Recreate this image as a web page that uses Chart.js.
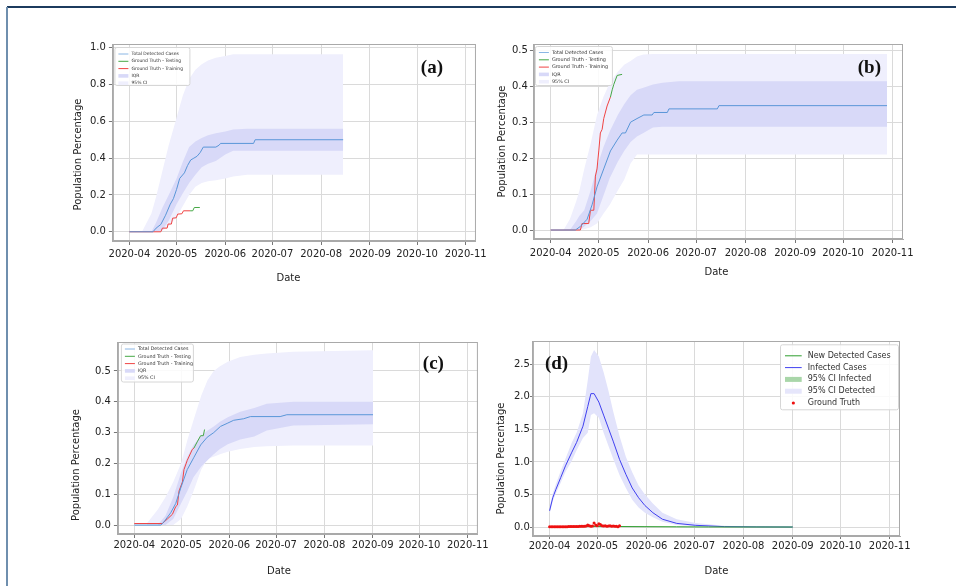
<!DOCTYPE html>
<html>
<head>
<meta charset="utf-8">
<script src="https://cdn.jsdelivr.net/npm/chart.js@4.4.0/dist/chart.umd.min.js"></script>
<style>
  html, body { margin: 0; padding: 0; background: #fff; }
  body { width: 956px; height: 586px; position: relative; overflow: hidden; }
  .topline { position: absolute; left: 7px; top: 6px; width: 949px; height: 2px; background: #1c3b5e; }
  .leftline { position: absolute; left: 6px; top: 7px; width: 2px; height: 579px; background: #6f8fae; }
  .panel { position: absolute; }
</style>
</head>
<body>
<div class="topline"></div>
<div class="leftline"></div>
<div class="panel" style="left:60px;top:30px;width:430px;height:262px"><canvas id="chartA"></canvas></div>
<div class="panel" style="left:490px;top:30px;width:440px;height:262px"><canvas id="chartB"></canvas></div>
<div class="panel" style="left:60px;top:330px;width:430px;height:256px"><canvas id="chartC"></canvas></div>
<div class="panel" style="left:490px;top:330px;width:440px;height:256px"><canvas id="chartD"></canvas></div>
<script>
// x axis: days since 2020-04-01, labelled at month starts
const monthDays = [0, 30, 61, 91, 122, 153, 183, 214];
const monthLabels = ['2020-04', '2020-05', '2020-06', '2020-07', '2020-08', '2020-09', '2020-10', '2020-11'];

const namesABC = ['Total Detected Cases', 'Ground Truth - Testing', 'Ground Truth - Training', 'IQR', '95% CI'];
const namesD = ['New Detected Cases', 'Infected Cases', '95% CI Infected', '95% CI Detected', 'Ground Truth'];

// ---- (a)
const aTotalX = [0, 15, 17, 20, 23, 26, 28, 30, 32, 35, 37, 39, 41, 43, 45, 47, 55, 57, 58, 79, 80, 136];
const aTotal = [0, 0, 0.02, 0.04, 0.09, 0.15, 0.18, 0.23, 0.29, 0.32, 0.36, 0.39, 0.40, 0.41, 0.43, 0.46, 0.46, 0.47, 0.48, 0.48, 0.50, 0.50];
const aBandX = [8, 14, 17, 21, 25, 30, 34, 38, 42, 46, 50, 55, 61, 66, 75, 136];
const aCiHigh = [0, 0.10, 0.19, 0.33, 0.47, 0.62, 0.74, 0.83, 0.88, 0.91, 0.93, 0.945, 0.955, 0.964, 0.965, 0.965];
const aCiLow = [0, 0, 0, 0.005, 0.03, 0.08, 0.14, 0.20, 0.245, 0.265, 0.275, 0.28, 0.29, 0.30, 0.31, 0.31];
const aIqrHigh = [0, 0, 0.05, 0.13, 0.20, 0.29, 0.38, 0.46, 0.49, 0.51, 0.525, 0.535, 0.545, 0.556, 0.56, 0.56];
const aIqrLow = [0, 0, 0, 0.01, 0.06, 0.15, 0.21, 0.265, 0.31, 0.35, 0.37, 0.385, 0.42, 0.44, 0.44, 0.44];
const aTrainX = [0, 20, 21, 24, 24.6, 26.7, 27.5, 29.8, 30.7, 33.4, 34.4, 38.6];
const aTrain = [0, 0, 0.02, 0.02, 0.042, 0.042, 0.074, 0.076, 0.096, 0.098, 0.114, 0.114];
const aTestX = [38.6, 40.3, 41.3, 44.8];
const aTest = [0.114, 0.114, 0.132, 0.132];
const aYTicks = [0, 0.2, 0.4, 0.6, 0.8, 1.0];

// ---- (b)
const bTotalX = [0, 15.5, 18.6, 22.8, 25.9, 29, 33.2, 37.4, 41.6, 44.7, 46.8, 50, 54, 58.3, 63.5, 64.6, 73, 74, 104.3, 105.3, 210.5];
const bTotal = [0, 0, 0.01, 0.03, 0.07, 0.12, 0.17, 0.22, 0.25, 0.27, 0.27, 0.30, 0.31, 0.32, 0.32, 0.327, 0.327, 0.337, 0.337, 0.346, 0.346];
const bBandX = [8, 12, 16, 18, 21, 25, 29, 33, 37, 42, 46, 50, 54, 58, 64, 70, 80, 210.5];
const bCiHigh = [0, 0.03, 0.08, 0.11, 0.17, 0.24, 0.32, 0.37, 0.41, 0.44, 0.46, 0.47, 0.483, 0.488, 0.49, 0.49, 0.49, 0.49];
const bCiLow = [0, 0, 0, 0, 0.002, 0.008, 0.018, 0.045, 0.07, 0.11, 0.14, 0.185, 0.21, 0.21, 0.21, 0.21, 0.21, 0.21];
const bIqrHigh = [0, 0, 0.025, 0.04, 0.055, 0.11, 0.175, 0.23, 0.275, 0.32, 0.35, 0.375, 0.39, 0.396, 0.405, 0.41, 0.414, 0.414];
const bIqrLow = [0, 0, 0, 0, 0.01, 0.025, 0.046, 0.095, 0.145, 0.19, 0.22, 0.245, 0.26, 0.27, 0.285, 0.287, 0.287, 0.287];
const bTrainX = [0, 18.6, 19.6, 23.8, 24.9, 27, 28, 29, 30.1, 31.1, 32.2, 33.2, 35.3, 37.4];
const bTrain = [0, 0, 0.018, 0.018, 0.055, 0.055, 0.15, 0.17, 0.22, 0.27, 0.28, 0.31, 0.345, 0.37];
const bTestX = [37.4, 38.5, 39.5, 41.6, 44.7];
const bTest = [0.37, 0.39, 0.405, 0.43, 0.433];
const bYTicks = [0, 0.1, 0.2, 0.3, 0.4, 0.5];

// ---- (c)
const cTotalX = [0, 17, 19, 23.4, 26.6, 29.8, 34, 38.3, 42.6, 46.8, 51, 55.3, 59.6, 63.8, 70.2, 74.5, 93.6, 97.9, 153.2];
const cTotal = [0, 0, 0.01, 0.04, 0.07, 0.12, 0.18, 0.22, 0.26, 0.285, 0.30, 0.32, 0.33, 0.34, 0.345, 0.352, 0.352, 0.358, 0.358];
const cBandX = [8, 15, 20, 25, 30, 34, 38, 43, 47, 51, 55, 60, 68, 77, 85, 102, 153.2];
const cCiHigh = [0.005, 0.05, 0.09, 0.14, 0.20, 0.274, 0.34, 0.42, 0.47, 0.50, 0.515, 0.53, 0.545, 0.553, 0.557, 0.562, 0.567];
const cCiLow = [0, 0, 0, 0, 0.02, 0.06, 0.11, 0.18, 0.215, 0.222, 0.23, 0.238, 0.247, 0.253, 0.256, 0.258, 0.258];
const cIqrHigh = [0, 0, 0.03, 0.09, 0.17, 0.22, 0.26, 0.29, 0.307, 0.32, 0.335, 0.35, 0.368, 0.38, 0.394, 0.40, 0.40];
const cIqrLow = [0, 0, 0, 0.02, 0.07, 0.11, 0.155, 0.19, 0.21, 0.23, 0.247, 0.262, 0.278, 0.287, 0.307, 0.323, 0.327];
const cTrainX = [0, 18, 21.3, 24.5, 26.6, 27.7, 28.7, 30.9, 31.9, 34, 37.2, 38.3];
const cTrain = [0.005, 0.005, 0.02, 0.035, 0.06, 0.065, 0.11, 0.14, 0.18, 0.21, 0.245, 0.25];
const cTestX = [38.3, 40.4, 42.6, 44.3, 45.1];
const cTest = [0.25, 0.27, 0.29, 0.29, 0.31];
const cYTicks = [0, 0.1, 0.2, 0.3, 0.4, 0.5];

// ---- (d)
const dX = [0, 2, 4, 7, 10, 14, 17, 21, 24, 26, 28, 31, 34, 37, 40, 44, 48, 52, 56, 60, 65, 71, 80, 92, 110, 130, 153];
const dInfected = [0.25, 0.45, 0.58, 0.76, 0.94, 1.15, 1.30, 1.55, 1.85, 2.05, 2.05, 1.92, 1.72, 1.52, 1.32, 1.04, 0.81, 0.60, 0.45, 0.33, 0.22, 0.12, 0.056, 0.026, 0.006, 0.002, 0];
const dCiHigh = [0.30, 0.52, 0.66, 0.86, 1.05, 1.30, 1.45, 1.75, 2.25, 2.62, 2.72, 2.62, 2.38, 2.10, 1.78, 1.40, 1.08, 0.84, 0.64, 0.50, 0.36, 0.22, 0.12, 0.06, 0.02, 0.005, 0];
const dCiLow = [0.20, 0.40, 0.52, 0.68, 0.85, 1.02, 1.18, 1.37, 1.45, 1.72, 1.75, 1.68, 1.45, 1.25, 1.05, 0.80, 0.60, 0.42, 0.30, 0.22, 0.15, 0.08, 0.03, 0.012, 0.002, 0, 0];
const dNewX = [0, 20, 30, 40, 60, 80, 100, 153];
const dNew = [0.002, 0.006, 0.01, 0.008, 0.005, 0.003, 0.001, 0];
const dNewHigh = [0.004, 0.012, 0.02, 0.016, 0.009, 0.005, 0.002, 0];
const dNewLow = [0.001, 0.003, 0.005, 0.004, 0.002, 0.001, 0, 0];
const dTruthX = [0, 1, 2, 3, 4, 5, 6, 7, 8, 9, 10, 11, 12, 13, 14, 15, 16, 17, 18, 19, 20, 21, 22, 23, 24, 25, 26, 27, 28, 29, 30, 31, 32, 33, 34, 35, 36, 37, 38, 39, 40, 41, 42, 43, 44];
const dTruth = [0.003, 0.003, 0.003, 0.004, 0.004, 0.004, 0.005, 0.005, 0.005, 0.006, 0.006, 0.006, 0.007, 0.007, 0.007, 0.008, 0.008, 0.009, 0.009, 0.01, 0.01, 0.011, 0.012, 0.015, 0.03, 0.02, 0.012, 0.015, 0.06, 0.03, 0.02, 0.05, 0.04, 0.02, 0.015, 0.02, 0.012, 0.015, 0.02, 0.01, 0.015, 0.01, 0.01, 0.006, 0.02];
const dYTicks = [0, 0.5, 1.0, 1.5, 2.0, 2.5];

const pts = (xs, ys) => xs.map((x, i) => ({ x: x, y: ys[i] }));

function line(xs, ys, color, width) {
    return { data: pts(xs, ys), borderColor: color, borderWidth: width || 1, pointRadius: 0, fill: false, tension: 0 };
}
function band(xs, lo, hi, color) {
    return [
        { data: pts(xs, lo), borderWidth: 0, borderColor: 'rgba(0,0,0,0)', pointRadius: 0, fill: false },
        { data: pts(xs, hi), borderWidth: 0, borderColor: 'rgba(0,0,0,0)', pointRadius: 0, fill: '-1', backgroundColor: color }
    ];
}

const labelFont = '10px "DejaVu Sans", sans-serif';

// frame, axis titles (off-centre as in the figure), panel tag and the in-plot legend
const panelExtras = {
    id: 'panelExtras',
    afterDraw(chart, args, opts) {
        const { ctx, chartArea: a } = chart;
        ctx.save();
        ctx.strokeStyle = '#a9a9a9';
        ctx.lineWidth = 1;
        ctx.strokeRect(a.left + 0.5, a.top + 0.5, a.right - a.left - 1, a.bottom - a.top - 1);

        // axis titles
        const xs = chart.scales.x, ys = chart.scales.y;
        ctx.font = labelFont;
        ctx.fillStyle = '#222';
        ctx.textAlign = 'center';
        ctx.textBaseline = 'middle';
        ctx.fillText('Date', (a.left + a.right) / 2 + opts.xTitleShift, xs.bottom - 6 - opts.xTitleBottom);
        ctx.save();
        ctx.translate(ys.left + 6, (a.top + a.bottom) / 2 + opts.yTitleShift);
        ctx.rotate(-Math.PI / 2);
        ctx.fillText('Population Percentage', 0, 0);
        ctx.restore();

        const t = opts.tag;
        ctx.font = 'bold 19px "Liberation Serif", "Times New Roman", serif';
        ctx.fillStyle = '#111';
        ctx.textAlign = t.anchor === 'right' ? 'right' : 'left';
        ctx.fillText(t.text, t.anchor === 'right' ? a.right + t.x : a.left + t.x, a.top + t.y);

        const lg = opts.legend;
        const bx = lg.anchor === 'right' ? a.right + lg.x : a.left + lg.x;
        const by = a.top + lg.y;
        ctx.beginPath();
        ctx.roundRect(bx + 0.5, by + 0.5, lg.w, lg.h, 2);
        ctx.fillStyle = 'rgba(255,255,255,0.85)';
        ctx.fill();
        ctx.strokeStyle = '#d6d6d6';
        ctx.lineWidth = 1;
        ctx.stroke();
        ctx.textAlign = 'left';
        ctx.font = lg.font + 'px "DejaVu Sans", sans-serif';
        lg.rows.forEach((r, i) => {
            const y = by + lg.row0 + i * lg.rowH;
            const sx = bx + lg.sampleX;
            if (r.kind === 'line') {
                ctx.strokeStyle = r.color;
                ctx.lineWidth = lg.lw;
                ctx.beginPath();
                ctx.moveTo(sx, y);
                ctx.lineTo(sx + lg.sampleW, y);
                ctx.stroke();
            } else if (r.kind === 'patch') {
                ctx.fillStyle = r.color;
                ctx.fillRect(sx, y - lg.patchH / 2, lg.sampleW, lg.patchH);
            } else {
                ctx.fillStyle = r.color;
                ctx.beginPath();
                ctx.arc(sx + lg.sampleW / 2, y, 1.6, 0, Math.PI * 2);
                ctx.fill();
            }
            ctx.fillStyle = '#333';
            ctx.fillText(r.text, bx + lg.textX, y);
        });
        ctx.restore();
    }
};

function makeChart(id, o) {
    const tickFont = { family: '"DejaVu Sans", sans-serif', size: 10 };
    return new Chart(document.getElementById(id), {
        type: 'line',
        data: { datasets: o.datasets },
        plugins: [panelExtras],
        options: {
            responsive: true,
            maintainAspectRatio: false,
            animation: false,
            events: [],
            layout: { padding: o.pad },
            plugins: {
                legend: { display: false },
                tooltip: { enabled: false },
                panelExtras: {
                    tag: o.tag, legend: o.legend,
                    xTitleShift: o.xTitleShift, yTitleShift: o.yTitleShift, xTitleBottom: o.xTitlePad.bottom
                }
            },
            scales: {
                x: {
                    type: 'linear',
                    min: -10.5,
                    max: 220.5,
                    afterBuildTicks: s => { s.ticks = monthDays.map(v => ({ value: v })); },
                    ticks: {
                        autoSkip: false, maxRotation: 0, color: '#222', font: tickFont,
                        padding: o.xTickPad,
                        callback: (v, i) => monthLabels[i]
                    },
                    grid: { color: '#dadada', tickColor: '#777', tickLength: o.tickLen },
                    border: { color: '#a9a9a9' },
                    // title drawn by panelExtras; kept here for the space it takes
                    title: { display: true, text: 'Date', color: 'rgba(0,0,0,0)', font: tickFont, padding: o.xTitlePad }
                },
                y: {
                    type: 'linear',
                    min: o.yMin,
                    max: o.yMax,
                    afterBuildTicks: s => { s.ticks = o.yTicks.map(v => ({ value: v })); },
                    ticks: {
                        color: '#222', font: tickFont, padding: o.yTickPad,
                        callback: v => v.toFixed(1)
                    },
                    grid: { color: '#dadada', tickColor: '#777', tickLength: o.tickLen },
                    border: { color: '#a9a9a9' },
                    title: { display: true, text: 'Population Percentage', color: 'rgba(0,0,0,0)', font: tickFont, padding: o.yTitlePad }
                }
            }
        }
    });
}

const cTotalColor = '#5a96d8', cTestColor = '#45a845', cTrainColor = '#f04444';
const cIqr = '#d8d9f8', cCi = '#efeffd';

function smallLegend(x, y, w, h, row0, font) {
    return {
        anchor: 'left', x: x, y: y, w: w, h: h, row0: row0, rowH: 7.3, font: font,
        sampleX: 4, sampleW: 10, textX: 17, lw: 1, patchH: 3.6,
        rows: [
            { kind: 'line', color: '#8ab6e4', text: namesABC[0] },
            { kind: 'line', color: cTestColor, text: namesABC[1] },
            { kind: 'line', color: cTrainColor, text: namesABC[2] },
            { kind: 'patch', color: cIqr, text: namesABC[3] },
            { kind: 'patch', color: cCi, text: namesABC[4] }
        ]
    };
}

makeChart('chartA', {
    datasets: [
        line(aTotalX, aTotal, cTotalColor),
        line(aTestX, aTest, cTestColor),
        line(aTrainX, aTrain, cTrainColor),
        ...band(aBandX, aIqrLow, aIqrHigh, cIqr),
        ...band(aBandX, aCiLow, aCiHigh, cCi)
    ],
    yMin: -0.05, yMax: 1.02, yTicks: aYTicks,
    pad: { left: 12, right: 13, top: 14, bottom: 8 },
    tickLen: 4, xTickPad: 3, yTickPad: 3,
    xTitlePad: { top: 9, bottom: 0 }, yTitlePad: { top: 0, bottom: 3 },
    xTitleShift: -6, yTitleShift: 12,
    tag: { text: '(a)', anchor: 'right', x: -33, y: 24 },
    legend: smallLegend(1.5, 3, 75, 38, 7, 4.5)
});

makeChart('chartB', {
    datasets: [
        line(bTotalX, bTotal, cTotalColor),
        line(bTestX, bTest, cTestColor),
        line(bTrainX, bTrain, cTrainColor),
        ...band(bBandX, bIqrLow, bIqrHigh, cIqr),
        ...band(bBandX, bCiLow, bCiHigh, cCi)
    ],
    yMin: -0.025, yMax: 0.5175, yTicks: bYTicks,
    pad: { left: 6, right: 27, top: 14, bottom: 14 },
    tickLen: 4, xTickPad: 4, yTickPad: 2,
    xTitlePad: { top: 3, bottom: 0 }, yTitlePad: { top: 0, bottom: 2 },
    xTitleShift: -2, yTitleShift: 0,
    tag: { text: '(b)', anchor: 'right', x: -22, y: 24.5 },
    legend: smallLegend(1, 2, 77, 39, 6.5, 4.9)
});

makeChart('chartC', {
    datasets: [
        line(cTotalX, cTotal, cTotalColor),
        line(cTestX, cTest, cTestColor),
        line(cTrainX, cTrain, cTrainColor),
        ...band(cBandX, cIqrLow, cIqrHigh, cIqr),
        ...band(cBandX, cCiLow, cCiHigh, cCi)
    ],
    yMin: -0.029, yMax: 0.594, yTicks: cYTicks,
    pad: { left: 10, right: 12, top: 12, bottom: 9 },
    tickLen: 4, xTickPad: 1, yTickPad: 3,
    xTitlePad: { top: 13, bottom: 0 }, yTitlePad: { top: 0, bottom: 10 },
    xTitleShift: -19, yTitleShift: 27,
    tag: { text: '(c)', anchor: 'right', x: -34, y: 22 },
    legend: smallLegend(3, 1.5, 72, 38, 5.5, 4.8)
});

makeChart('chartD', {
    datasets: [
        { data: pts(dTruthX, dTruth), showLine: false, pointRadius: 1.5, pointBorderWidth: 0, pointBackgroundColor: '#ee1111', borderColor: '#ee1111' },
        line(dNewX, dNew, '#2e9e2e'),
        line(dX, dInfected, '#4040f0'),
        ...band(dNewX, dNewLow, dNewHigh, '#a9d6a9'),
        ...band(dX, dCiLow, dCiHigh, '#e2e3fb')
    ],
    yMin: -0.138, yMax: 2.859, yTicks: dYTicks,
    pad: { left: 5, right: 30, top: 11, bottom: 9 },
    tickLen: 3, xTickPad: 1, yTickPad: 0,
    xTitlePad: { top: 12, bottom: 0 }, yTitlePad: { top: 0, bottom: 7 },
    xTitleShift: 0, yTitleShift: 20,
    tag: { text: '(d)', anchor: 'left', x: 12, y: 23.5 },
    legend: {
        anchor: 'right', x: -120, y: 3.3, w: 118, h: 65, row0: 11.5, rowH: 11.8, font: 8,
        sampleX: 5, sampleW: 16.7, textX: 27.7, lw: 1, patchH: 5,
        rows: [
            { kind: 'line', color: '#2e9e2e', text: namesD[0] },
            { kind: 'line', color: '#4040f0', text: namesD[1] },
            { kind: 'patch', color: '#a9d6a9', text: namesD[2] },
            { kind: 'patch', color: '#e6e6fb', text: namesD[3] },
            { kind: 'dot', color: '#ee1111', text: namesD[4] }
        ]
    }
});
</script>
</body>
</html>
